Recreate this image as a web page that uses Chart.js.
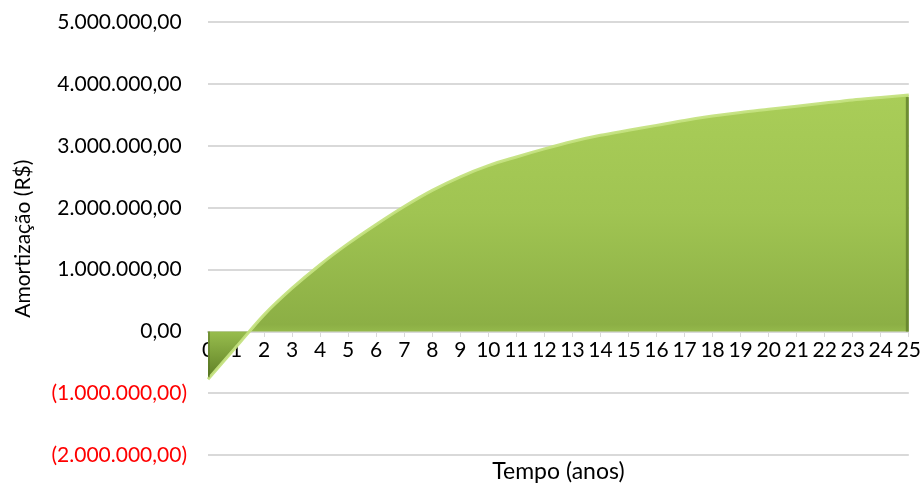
<!DOCTYPE html>
<html lang="pt-BR">
<head>
<meta charset="utf-8">
<title>Amortização</title>
<script src="https://cdn.jsdelivr.net/npm/chart.js@4/dist/chart.umd.min.js"></script>
<style>
  html, body { margin: 0; padding: 0; background: #ffffff; }
  #wrap { width: 923px; height: 486px; }
</style>
</head>
<body>
<div id="wrap"><canvas id="grafico" width="923" height="486"></canvas></div>
<script>
// Anos do horizonte de análise
const anos = ['0','1','2','3','4','5','6','7','8','9','10','11','12','13','14','15','16','17','18','19','20','21','22','23','24','25'];

// Amortização acumulada (R$) em cada ano
const amortizacao = [
  -770000, -250000, 270000, 700000, 1080000, 1420000, 1730000, 2020000,
  2280000, 2500000, 2680000, 2820000, 2950000, 3070000, 3170000, 3250000,
  3330000, 3410000, 3480000, 3540000, 3590000, 3640000, 3690000, 3740000,
  3780000, 3820000
];

// Limites e passo do eixo de valores
const eixoMin = -2000000;
const eixoMax = 5000000;
const eixoPasso = 1000000;

const tituloY = 'Amortização (R$)';
const tituloX = 'Tempo (anos)';

const fonte = 'Lato, "Open Sans", sans-serif';

// Formato contábil brasileiro: negativos entre parênteses
function formatoContabil(v) {
  const partes = Math.abs(v).toFixed(2).split('.');
  const inteiro = partes[0].replace(/\B(?=(\d{3})+(?!\d))/g, '.');
  const texto = inteiro + ',' + partes[1];
  return v < 0 ? '(' + texto + ')' : texto + ' ';
}

// Preenchimento em degradê vertical, do topo da série até o ponto mais baixo
function preenchimento(context) {
  const chart = context.chart;
  const area = chart.chartArea;
  const y = chart.scales.y;
  if (!area || !y) return '#9bbb59';
  const topo = y.getPixelForValue(Math.max(...amortizacao));
  const base = y.getPixelForValue(Math.min(...amortizacao));
  const zero = y.getPixelForValue(0);
  const g = chart.ctx.createLinearGradient(0, topo, 0, base);
  const z = (zero - topo) / (base - topo);
  g.addColorStop(0, '#a9cd58');
  g.addColorStop(z * 0.5, '#a0c452');
  g.addColorStop(z * 0.97, '#8caf45');
  g.addColorStop(Math.min(1, z + 0.005), '#96bb4c');
  g.addColorStop(1, '#5e7f25');
  return g;
}

// Sombra do chanfro nas bordas verticais da área
const bordaDireita = {
  id: 'bordaDireita',
  afterDatasetsDraw(chart) {
    const meta = chart.getDatasetMeta(0);
    const ultimo = meta.data[meta.data.length - 1];
    const primeiro = meta.data[0];
    if (!ultimo) return;
    const zero = chart.scales.y.getPixelForValue(0);
    const ctx = chart.ctx;
    ctx.save();
    ctx.lineWidth = 3;
    ctx.strokeStyle = 'rgba(100,130,45,0.85)';
    ctx.beginPath();
    ctx.moveTo(ultimo.x - 1.5, ultimo.y + 2);
    ctx.lineTo(ultimo.x - 1.5, zero);
    ctx.stroke();
    ctx.strokeStyle = 'rgba(80,108,30,0.5)';
    ctx.lineWidth = 2;
    ctx.beginPath();
    ctx.moveTo(primeiro.x + 1, zero);
    ctx.lineTo(primeiro.x + 1, primeiro.y - 2);
    ctx.stroke();
    ctx.restore();
  }
};

new Chart(document.getElementById('grafico'), {
  type: 'line',
  data: {
    labels: anos,
    datasets: [{
      data: amortizacao,
      fill: 'origin',
      backgroundColor: preenchimento,
      borderColor: 'rgba(196,226,128,0.95)',
      borderWidth: 3,
      pointRadius: 0,
      cubicInterpolationMode: 'monotone'
    }]
  },
  options: {
    responsive: false,
    animation: false,
    devicePixelRatio: 1,
    layout: { padding: { top: 22, right: 11, left: 0, bottom: 0 } },
    plugins: {
      legend: { display: false },
      tooltip: { enabled: false },
      title: {
        display: true,
        position: 'bottom',
        fullSize: false,
        text: tituloX,
        color: '#000000',
        font: { family: fonte, size: 23, weight: 'normal' },
        padding: { top: 2, bottom: 1 }
      }
    },
    scales: {
      x: {
        type: 'category',
        position: { y: 0 },
        offset: false,
        z: 1,
        afterFit(scale) { scale.height = 0; },
        grid: {
          display: true,
          drawOnChartArea: false,
          drawTicks: true,
          tickLength: 4,
          color: '#d9d9d9',
          lineWidth: 1
        },
        border: { display: true, color: '#d9d9d9', width: 2 },
        ticks: {
          autoSkip: false,
          maxRotation: 0,
          minRotation: 0,
          padding: 2,
          color: '#000000',
          font: { family: fonte, size: 21 }
        }
      },
      y: {
        min: eixoMin,
        max: eixoMax,
        afterFit(scale) {
          scale.width = 208;
          scale.paddingTop = 0;
          scale.paddingBottom = 0;
        },
        grid: {
          color: '#d9d9d9',
          lineWidth: 2,
          drawTicks: false
        },
        border: { display: false },
        ticks: {
          stepSize: eixoPasso,
          padding: 21,
          font: { family: fonte, size: 21 },
          color: (c) => (c.tick && c.tick.value < 0 ? '#ff0000' : '#000000'),
          callback: (v) => formatoContabil(v)
        },
        title: {
          display: true,
          text: tituloY,
          color: '#000000',
          font: { family: fonte, size: 21 },
          padding: { top: 11, bottom: 0 }
        }
      }
    }
  },
  plugins: [bordaDireita]
});
</script>
</body>
</html>
